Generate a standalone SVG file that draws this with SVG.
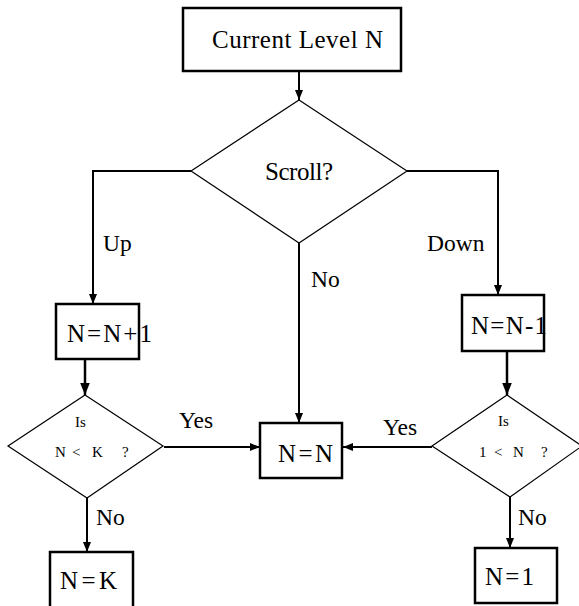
<svg xmlns="http://www.w3.org/2000/svg" width="579" height="606" viewBox="0 0 579 606" font-family="Liberation Serif, DejaVu Serif, serif">
<style>
.box{fill:#fff;stroke:#000;stroke-width:2.5}
.dia{fill:#fff;stroke:#000;stroke-width:1.2}
.t{font-size:25px}
.l{font-size:23.5px}
.s{font-size:15px}
.c{fill:none;stroke:#000;stroke-width:2}
</style>
<defs>
<marker id="ah" viewBox="0 0 10 8" refX="10" refY="4" markerWidth="5" markerHeight="4" markerUnits="strokeWidth" orient="auto">
<path d="M0,0 L10,4 L0,8 Z" fill="#000"/>
</marker>
</defs>
<rect width="579" height="606" fill="#fff"/>
<g id="connectors">
<path class="c" d="M299,71 V100" marker-end="url(#ah)"/>
<path class="c" d="M191,171 H93 V304" marker-end="url(#ah)"/>
<path class="c" d="M407,171 H498 V295" marker-end="url(#ah)"/>
<path class="c" d="M299,243 V423" marker-end="url(#ah)"/>
<path class="c" d="M85,359 V395" marker-end="url(#ah)" style="stroke-width:2.5"/>
<path class="c" d="M164,447 H260" marker-end="url(#ah)"/>
<path class="c" d="M432,447 H343" marker-end="url(#ah)"/>
<path class="c" d="M87,498 V552" marker-end="url(#ah)"/>
<path class="c" d="M507,351 V395" marker-end="url(#ah)" style="stroke-width:2.5"/>
<path class="c" d="M510,497 V548" marker-end="url(#ah)"/>
<text class="l" x="103" y="251">Up</text>
<text class="l" x="427" y="251">Down</text>
<text class="l" x="311" y="287">No</text>
<text class="l" x="179" y="428">Yes</text>
<text class="l" x="383" y="435">Yes</text>
<text class="l" x="96" y="525">No</text>
<text class="l" x="518" y="525">No</text>
</g>
<g id="start">
<rect class="box" x="183" y="8" width="218" height="63"/>
<text class="t" x="212" y="48" textLength="171">Current Level N</text>
</g>
<g id="scroll">
<polygon class="dia" points="299,100 407,171 299,243 191,171"/>
<text class="t" x="265" y="180" textLength="68">Scroll?</text>
</g>
<g id="inc">
<rect class="box" x="56" y="304" width="83" height="55"/>
<text class="t" x="67" y="342" textLength="85">N=N+1</text>
</g>
<g id="dec">
<rect class="box" x="462" y="295" width="82" height="56"/>
<text class="t" x="471" y="334" textLength="76">N=N-1</text>
</g>
<g id="same">
<rect class="box" x="260" y="423" width="82" height="55"/>
<text class="t" x="278" y="462" textLength="55">N=N</text>
</g>
<g id="checkK">
<polygon class="dia" points="85,395 163,446 87,498 8,446"/>
<text class="s" x="75" y="427">Is</text>
<text class="s" y="457"><tspan x="55">N</tspan><tspan x="72">&lt;</tspan><tspan x="92">K</tspan><tspan x="122">?</tspan></text>
</g>
<g id="check1">
<polygon class="dia" points="507,395 582,446 510,497 432,446"/>
<text class="s" x="498" y="426">Is</text>
<text class="s" y="457"><tspan x="479">1</tspan><tspan x="494">&lt;</tspan><tspan x="513">N</tspan><tspan x="541">?</tspan></text>
</g>
<g id="setK">
<rect class="box" x="50" y="552" width="83" height="60"/>
<text class="t" x="60" y="589" textLength="57">N=K</text>
</g>
<g id="set1">
<rect class="box" x="475" y="548" width="82" height="55"/>
<text class="t" x="485" y="585" textLength="49">N=1</text>
</g>
</svg>
